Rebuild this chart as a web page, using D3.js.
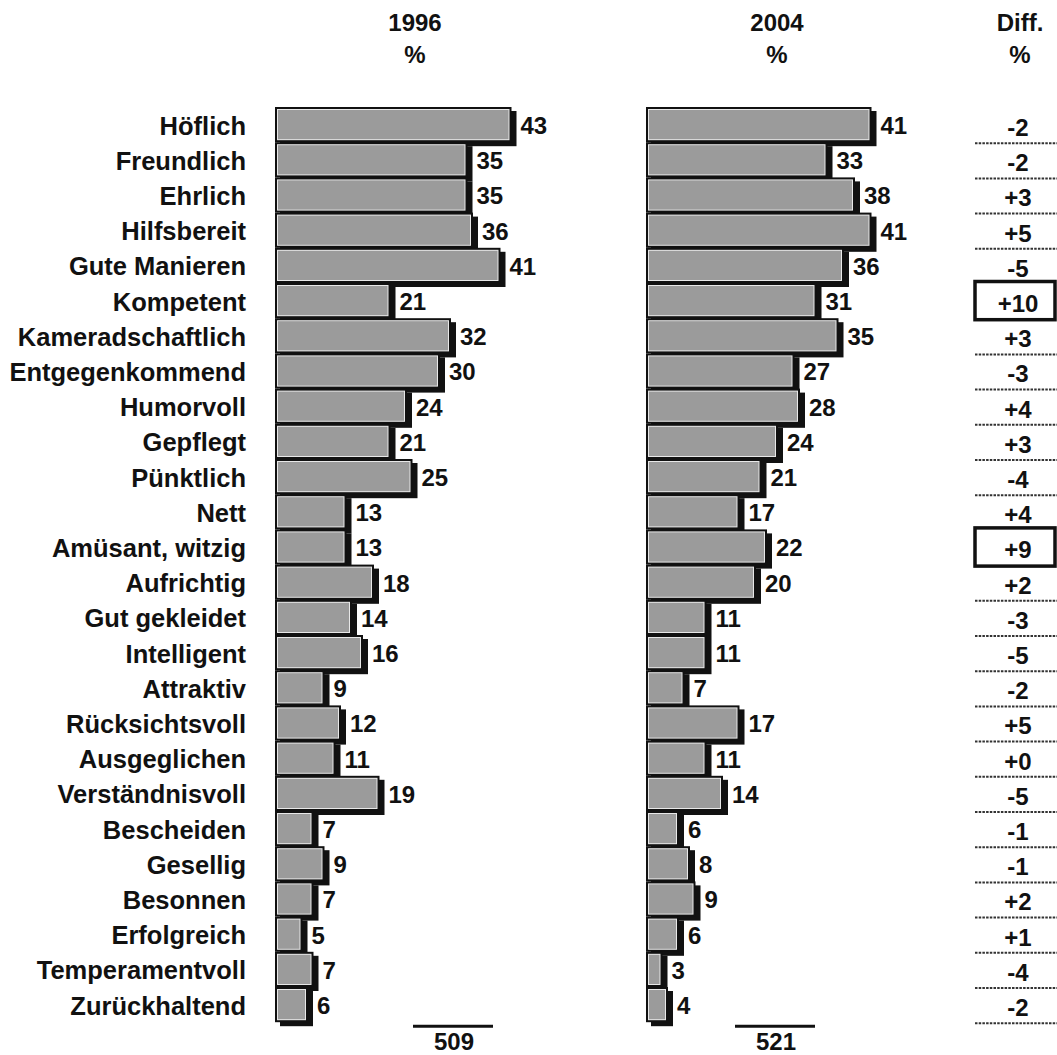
<!DOCTYPE html>
<html>
<head>
<meta charset="utf-8">
<script src="https://cdn.jsdelivr.net/npm/d3@7"></script>
<style>
  body { margin: 0; background: #fff; }
  text { font-family: "Liberation Sans", Arial, Helvetica, sans-serif; font-weight: bold; fill: #111; }
</style>
</head>
<body>
<svg id="chart" width="1057" height="1055"></svg>
<script>
// values
var labels = ["Höflich", "Freundlich", "Ehrlich", "Hilfsbereit", "Gute Manieren", "Kompetent",
    "Kameradschaftlich", "Entgegenkommend", "Humorvoll", "Gepflegt", "Pünktlich", "Nett",
    "Amüsant, witzig", "Aufrichtig", "Gut gekleidet", "Intelligent", "Attraktiv", "Rücksichtsvoll",
    "Ausgeglichen", "Verständnisvoll", "Bescheiden", "Gesellig", "Besonnen", "Erfolgreich",
    "Temperamentvoll", "Zurückhaltend"];
var values1996 = [43, 35, 35, 36, 41, 21, 32, 30, 24, 21, 25, 13, 13, 18, 14, 16, 9, 12, 11, 19, 7, 9, 7, 5, 7, 6];
var values2004 = [41, 33, 38, 41, 36, 31, 35, 27, 28, 24, 21, 17, 22, 20, 11, 11, 7, 17, 11, 14, 6, 8, 9, 6, 3, 4];
var diffs = [-2, -2, 3, 5, -5, 10, 3, -3, 4, 3, -4, 4, 9, 2, -3, -5, -2, 5, 0, -5, -1, -1, 2, 1, -4, -2];
var highlighted = ["Kompetent", "Amüsant, witzig"];
var years = ["1996", "2004"];
var totals = [509, 521];

var svg = d3.select("#chart");

var y = d3.scaleBand()
    .domain(labels)
    .range([107, 107 + labels.length * 35.2])
    .padding(0);
var bw = y.bandwidth();

function signed(v) {
    return (v < 0 ? "-" : "+") + Math.abs(v);
}

// row labels
svg.append("g").selectAll("text")
    .data(labels)
    .enter().append("text")
    .attr("x", 246)
    .attr("y", function (d) { return y(d) + 27.5; })
    .attr("text-anchor", "end")
    .style("font-size", "25.5px")
    .text(function (d) { return d; });

var panels = [
    {year: years[0], values: values1996, total: totals[0], left: 275, mid: 415, totalX: 453},
    {year: years[1], values: values2004, total: totals[1], left: 646, mid: 777, totalX: 775}
];

panels.forEach(function (p) {
    var x = d3.scaleLinear().domain([0, 10]).range([p.left, p.left + 55]);
    var rows = labels.map(function (l, i) { return {label: l, v: p.values[i]}; });
    var g = svg.append("g");

    // header
    g.append("text").attr("x", p.mid).attr("y", 31).attr("text-anchor", "middle")
        .style("font-size", "24px").text(p.year);
    g.append("text").attr("x", p.mid).attr("y", 63).attr("text-anchor", "middle")
        .style("font-size", "24px").text("%");

    // shadows first, bars drawn over them
    g.append("g").selectAll("rect")
        .data(rows)
        .enter().append("rect")
        .attr("x", x(0) + 5)
        .attr("y", function (d) { return y(d.label) + 4; })
        .attr("width", function (d) { return x(d.v) - x(0); })
        .attr("height", bw)
        .attr("fill", "#111");

    var bar = g.append("g").selectAll("g")
        .data(rows)
        .enter().append("g");

    bar.append("rect")
        .attr("x", x(0))
        .attr("y", function (d) { return y(d.label); })
        .attr("width", function (d) { return x(d.v) - x(0); })
        .attr("height", bw)
        .attr("fill", "#111");

    bar.append("rect")
        .attr("x", x(0) + 2)
        .attr("y", function (d) { return y(d.label) + 2; })
        .attr("width", function (d) { return x(d.v) - x(0) - 4; })
        .attr("height", bw - 4)
        .attr("fill", "#e8e8e8");

    bar.append("rect")
        .attr("x", x(0) + 3)
        .attr("y", function (d) { return y(d.label) + 3; })
        .attr("width", function (d) { return x(d.v) - x(0) - 6; })
        .attr("height", bw - 6)
        .attr("fill", "#9b9b9b");

    bar.append("text")
        .attr("x", function (d) { return x(d.v) + 9; })
        .attr("y", function (d) { return y(d.label) + 27; })
        .style("font-size", "24px")
        .text(function (d) { return d.v; });

    // sample size
    var yEnd = y.range()[1];
    g.append("line")
        .attr("x1", p.totalX - 40).attr("x2", p.totalX + 40)
        .attr("y1", yEnd + 4).attr("y2", yEnd + 4)
        .attr("stroke", "#111").attr("stroke-width", 3);
    g.append("text").attr("x", p.totalX + 1).attr("y", yEnd + 28).attr("text-anchor", "middle")
        .style("font-size", "24px").text(p.total);
});

// difference column
var dg = svg.append("g");
dg.append("text").attr("x", 1020).attr("y", 31).attr("text-anchor", "middle")
    .style("font-size", "24px").text("Diff.");
dg.append("text").attr("x", 1020).attr("y", 63).attr("text-anchor", "middle")
    .style("font-size", "24px").text("%");

var drows = labels.map(function (l, i) {
    return {label: l, v: diffs[i], hi: highlighted.indexOf(l) >= 0,
        nextHi: i + 1 < labels.length && highlighted.indexOf(labels[i + 1]) >= 0};
});

dg.append("g").selectAll("rect")
    .data(drows.filter(function (d) { return d.hi; }))
    .enter().append("rect")
    .attr("x", 975)
    .attr("y", function (d) { return y(d.label) - 1.5; })
    .attr("width", 80)
    .attr("height", bw + 3)
    .attr("fill", "none")
    .attr("stroke", "#111")
    .attr("stroke-width", 3.5);

dg.append("g").selectAll("line")
    .data(drows.filter(function (d) { return !d.hi && !d.nextHi; }))
    .enter().append("line")
    .attr("x1", 975).attr("x2", 1057)
    .attr("y1", function (d) { return y(d.label) + bw + 1; })
    .attr("y2", function (d) { return y(d.label) + bw + 1; })
    .attr("stroke", "#333")
    .attr("stroke-width", 2)
    .attr("stroke-dasharray", "2.5,1.2");

dg.append("g").selectAll("text")
    .data(drows)
    .enter().append("text")
    .attr("x", 1018)
    .attr("y", function (d) { return y(d.label) + 29; })
    .attr("text-anchor", "middle")
    .style("font-size", "24px")
    .text(function (d) { return signed(d.v); });
</script>
</body>
</html>
